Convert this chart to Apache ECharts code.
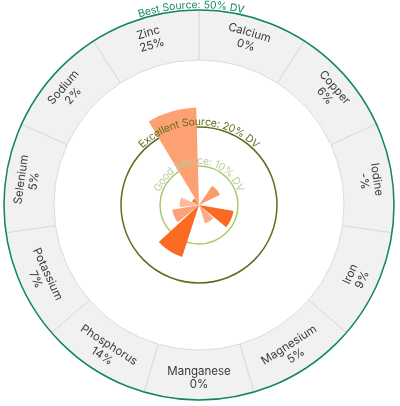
<!DOCTYPE html>
<html>
<head>
<meta charset="utf-8">
<script src="https://cdn.jsdelivr.net/npm/echarts@6/dist/echarts.min.js"></script>
<style>
html, body { margin: 0; padding: 0; background: #fff; }
#main { width: 400px; height: 406px; }
</style>
</head>
<body>
<div id="main"></div>
<script>
var nutrients = ['Calcium', 'Copper', 'Iodine', 'Iron', 'Magnesium', 'Manganese', 'Phosphorus', 'Potassium', 'Selenium', 'Sodium', 'Zinc'];
var dvValues = [0, 6, null, 9, 5, 0, 14, 7, 5, 2, 25]; // % daily value, null = unknown
var barColors = ['#fc9a6c', '#fc9a6c', '#fc9a6c', '#fa6a22', '#fcab87', '#fc9a6c', '#fa6a22', '#fca27b', '#fdbb9c', '#f47a3c', '#fda172'];
var thresholdNames = ['Good Source', 'Excellent Source', 'Best Source'];
var thresholdDV = [10, 20, 50];
var thresholdColors = ['#a9c96c', '#5e6e1d', '#12895a'];
var thresholdTextColors = ['#b9cc9c', '#5e6e1d', '#1a8a5c'];
var thresholdShift = [0, 0, 8]; // caption shift to the left along the arc, px

var font = 'Inter, "Noto Sans", sans-serif';
var cx = 199, cy = 205;

var myChart = echarts.init(document.getElementById('main'));

// split line colours per radius tick (0,10,20,30,40,50)
var splitColors = [];
for (var t = 0; t <= 50; t += 10) {
    var k = thresholdDV.indexOf(t);
    splitColors.push(k >= 0 ? thresholdColors[k] : 'rgba(0,0,0,0)');
}

var option = {
    animation: false,
    polar: {
        center: [cx, cy],
        radius: [0, 195]
    },
    angleAxis: {
        type: 'category',
        data: nutrients,
        startAngle: 90,
        clockwise: true,
        axisLine: { show: false },
        axisTick: { show: false },
        axisLabel: { show: false },
        splitLine: { show: false }
    },
    radiusAxis: {
        type: 'value',
        min: 0,
        max: 50,
        interval: 10,
        z: 1,
        axisLine: { show: false },
        axisTick: { show: false },
        axisLabel: { show: false },
        splitLine: {
            show: true,
            lineStyle: { color: splitColors, width: 1.5 }
        }
    },
    series: [
        {
            type: 'pie',
            z: 0,
            silent: true,
            center: [cx, cy],
            radius: [145, 195],
            startAngle: 90,
            clockwise: true,
            itemStyle: { color: '#f1f1f1', borderColor: '#dadada', borderWidth: 1 },
            label: {
                show: true,
                position: 'inside',
                rotate: 'tangential',
                color: '#3a3a3a',
                fontFamily: font,
                fontSize: 11.5,
                lineHeight: 13,
                formatter: function (p) {
                    var v = p.data.dv;
                    return p.name + '\n' + (v == null ? '-' : v) + '%';
                }
            },
            labelLine: { show: false },
            emphasis: { disabled: true },
            data: nutrients.map(function (n, i) {
                return { name: n, value: 1, dv: dvValues[i] };
            })
        },
        {
            type: 'bar',
            coordinateSystem: 'polar',
            z: 2,
            barCategoryGap: '10%',
            silent: true,
            data: dvValues.map(function (v, i) {
                return { value: v == null ? '-' : v, itemStyle: { color: barColors[i] } };
            })
        }
    ]
};
myChart.setOption(option);

// curved threshold captions, placed with the polar scale
var measure = document.createElement('canvas').getContext('2d');
var c0 = myChart.convertToPixel({ polarIndex: 0 }, [0, 0]);
var graphics = [];
thresholdDV.forEach(function (dv, idx) {
    var p = myChart.convertToPixel({ polarIndex: 0 }, [dv, 0]);
    var r = Math.sqrt(Math.pow(p[0] - c0[0], 2) + Math.pow(p[1] - c0[1], 2));
    var R = r + 5;
    var text = thresholdNames[idx] + ': ' + dv + '% DV';
    var f = '10.5px ' + font;
    measure.font = f;
    var widths = text.split('').map(function (ch) { return measure.measureText(ch).width; });
    var total = widths.reduce(function (a, b) { return a + b; }, 0);
    var theta0 = Math.PI / 2 + (total / 2 + thresholdShift[idx]) / R;
    var cum = 0;
    text.split('').forEach(function (ch, j) {
        var th = theta0 - (cum + widths[j] / 2) / R;
        cum += widths[j];
        graphics.push({
            type: 'text',
            z: 100,
            silent: true,
            x: c0[0] + R * Math.cos(th),
            y: c0[1] - R * Math.sin(th),
            rotation: th - Math.PI / 2,
            style: {
                text: ch,
                font: f,
                fill: thresholdTextColors[idx],
                align: 'center',
                verticalAlign: 'middle'
            }
        });
    });
});
myChart.setOption({ graphic: graphics });
</script>
</body>
</html>
